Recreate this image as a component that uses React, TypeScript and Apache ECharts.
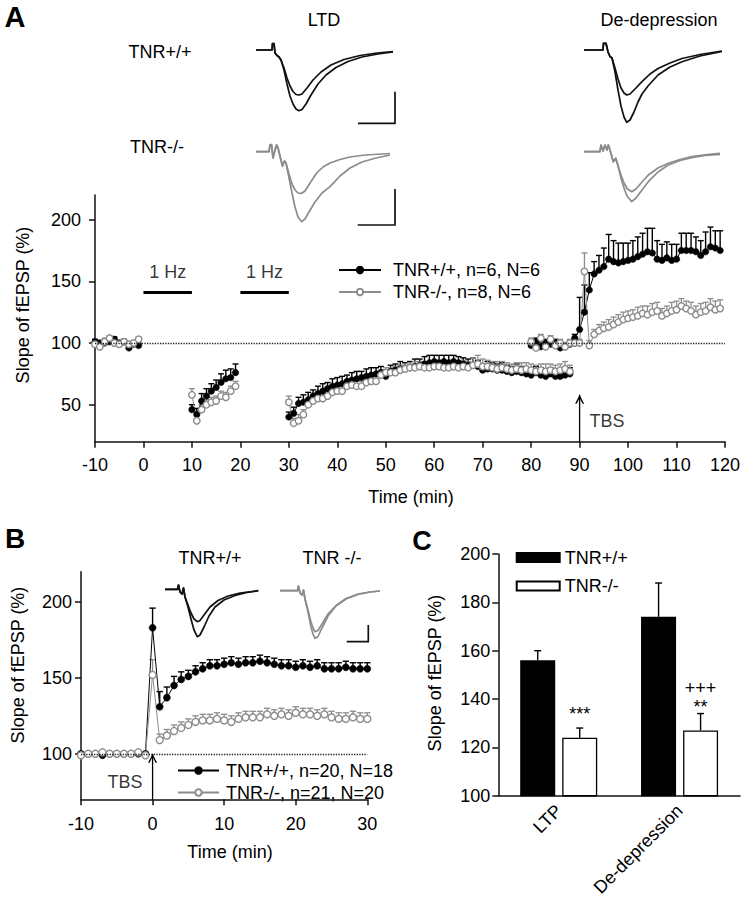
import React, { useEffect, useRef } from 'react';
import * as echarts from 'echarts';

const FONT = '"Liberation Sans", Arial, Helvetica, sans-serif';
const BLACK = '#000000';
const GRAY = '#8c8c8c';

// ---------------- Panel A (time in min, slope in % of baseline) ----------------
const aSegStarts = [-10, 10, 30, 80];
const aWt1 = [101, 100, 100, 101, 103, 100, 101, 96, 99, 98];
const aKo1 = [99, 97, 101, 104, 100, 99, 101, 99, 100, 103];
const aWtErr1 = [2, 2, 2, 2, 2, 2, 2, 2, 2, 2];
const aKoErr1 = [2, 2, 3, 2, 2, 2, 2, 2, 2, 2];
const aWt2 = [46, 42, 53, 57, 61, 64, 68, 71, 72, 76];
const aKo2 = [58, 37, 46, 50, 52, 53, 57, 56, 61, 65];
const aWtErr2 = [4, 5, 6, 6, 6, 6, 7, 7, 7, 7];
const aKoErr2 = [5, 5, 4, 4, 4, 4, 4, 4, 4, 4];
const aWt3 = [40, 43, 51, 52, 54, 57, 59, 61, 63, 65,
  66, 67, 69, 70, 71, 72, 73, 74, 75, 76,
  73, 77, 78, 79, 79, 80, 81, 82, 83, 84,
  85, 84, 85, 84, 85, 84, 83, 82, 82, 81,
  78, 79, 79, 78, 78, 77, 76, 77, 76, 75,
  74, 76, 74, 73, 75, 73, 73, 74, 75];
const aKo3 = [52, 35, 37, 42, 50, 53, 55, 55, 57, 60,
  61, 61, 65, 66, 65, 65, 68, 69, 69, 74,
  76, 76, 76, 78, 79, 80, 80, 81, 80, 80,
  81, 81, 80, 80, 81, 80, 81, 80, 82, 83,
  81, 81, 80, 79, 80, 79, 78, 79, 78, 79,
  78, 77, 78, 77, 78, 77, 78, 79, 77];
const aWtErr3 = [4, 5, 5, 6, 6, 5, 6, 6, 5, 6, 6, 6, 5, 6, 6, 5, 6, 6, 5, 5,
  5, 5, 5, 6, 5, 5, 6, 5, 6, 6, 5, 6, 5, 6, 5, 5, 5, 5, 6, 5,
  5, 6, 5, 5, 6, 5, 5, 6, 5, 5, 6, 5, 6, 6, 5, 6, 6, 6, 5];
const aKoErr3 = [5, 4, 5, 4, 4, 4, 4, 4, 4, 4, 4, 5, 4, 4, 5, 4, 4, 4, 4, 4,
  4, 4, 5, 4, 4, 4, 5, 4, 5, 4, 4, 5, 4, 4, 4, 5, 5, 5, 6, 7,
  6, 5, 5, 6, 5, 5, 5, 5, 6, 5, 5, 5, 5, 6, 5, 5, 5, 6, 5];
const aWt4 = [98, 101, 97, 100, 99, 100, 96, 97, 99, 104,
  111, 125, 143, 156, 159, 162, 168, 166, 165, 166,
  167, 168, 170, 172, 174, 173, 168, 167, 169, 167,
  168, 175, 175, 175, 174, 171, 174, 178, 177, 175];
const aKo4 = [101, 96, 104, 97, 103, 98, 100, 97, 100, 100,
  100, 158, 98, 107, 110, 112, 113, 115, 117, 119,
  120, 121, 122, 124, 123, 125, 126, 122, 124, 126,
  127, 130, 128, 126, 123, 125, 126, 129, 127, 128];
const aWtErr4 = [3, 3, 3, 3, 3, 3, 3, 3, 3, 3,
  26, 22, 14, 10, 12, 15, 20, 17, 16, 15,
  14, 15, 16, 17, 19, 20, 15, 13, 13, 13,
  12, 14, 14, 14, 12, 12, 16, 16, 14, 16];
const aKoErr4 = [3, 3, 3, 3, 3, 3, 3, 3, 3, 3,
  3, 15, 4, 4, 5, 5, 6, 6, 6, 6,
  6, 6, 7, 6, 7, 7, 7, 6, 6, 7,
  7, 6, 6, 7, 7, 7, 7, 7, 7, 7];
const aStimPeriods = [[0, 10], [20, 30]];
const aStimLevel = 141;
const aStimLabelLevel = 157.6;
const aTbsTime = 90;
const aYTicks = [50, 100, 150, 200];

// ---------------- Panel B ----------------
const bStart = -10;
const bWt = [100, 100, 100, 99, 100, 100, 100, 100, 100, 100,
  183, 131, 137, 145, 149, 151, 154, 156, 158, 158,
  159, 160, 159, 160, 160, 161, 160, 159, 158, 158,
  157, 158, 157, 158, 156, 156, 156, 157, 156, 156, 156];
const bKo = [99, 100, 100, 101, 100, 100, 100, 100, 101, 99,
  152, 109, 112, 115, 117, 119, 121, 122, 122, 123,
  122, 121, 123, 124, 124, 124, 126, 125, 126, 125,
  127, 126, 126, 125, 126, 124, 123, 123, 124, 123, 123];
const bWtErr = [1, 1, 1, 1, 1, 1, 1, 1, 1, 1,
  13, 10, 7, 6, 5, 4, 4, 4, 4, 4,
  4, 4, 4, 4, 4, 4, 4, 4, 4, 4,
  4, 4, 4, 4, 4, 4, 4, 4, 4, 4, 4];
const bKoErr = [1, 1, 1, 1, 1, 1, 1, 1, 1, 1,
  10, 4, 4, 4, 4, 4, 4, 4, 4, 4,
  4, 4, 4, 4, 4, 4, 4, 4, 4, 4,
  4, 4, 4, 4, 4, 4, 4, 4, 4, 4, 4];
const bTbsTime = 0;
const bYTicks = [100, 150, 200];

// ---------------- Panel C ----------------
const cCategories = ['LTP', 'De-depression'];
const cWt = [156, 174];
const cWtErr = [4, 14];
const cKo = [124, 127];
const cKoErr = [4, 7];
const cSig = ['***', '+++\n**'];

const AWT = 'TNR+/+, n=6, N=6';
const AKO = 'TNR-/-, n=8, N=6';
const BWT = 'TNR+/+, n=20, N=18';
const BKO = 'TNR-/-, n=21, N=20';
const CWT = 'TNR+/+';
const CKO = 'TNR-/-';

function buildLine(starts: number[], segs: number[][]) {
  const out: any[] = [];
  segs.forEach((seg, si) => {
    if (si > 0) out.push([starts[si], null]);
    seg.forEach((v, i) => out.push([starts[si] + i, v]));
  });
  return out;
}
function buildErr(starts: number[], segs: number[][], errs: number[][]) {
  const out: any[] = [];
  segs.forEach((seg, si) => seg.forEach((v, i) => out.push([starts[si] + i, v, errs[si][i]])));
  return out;
}

const ARROW = 'path://M0,10 L5,0 L10,10 L8.3,10 L5,3.4 L1.7,10 Z';

function errRender(color: string, hw: number, dx: number, lw: number) {
  return (params: any, api: any) => {
    const x = api.value(0);
    const v = api.value(1);
    const e = api.value(2);
    const p0 = api.coord([x, v]);
    const p1 = api.coord([x, v + e]);
    const cx = p0[0] + dx;
    return {
      type: 'group',
      children: [
        { type: 'line', shape: { x1: cx, y1: p0[1], x2: cx, y2: p1[1] }, style: { stroke: color, lineWidth: lw } },
        { type: 'line', shape: { x1: cx - hw, y1: p1[1], x2: cx + hw, y2: p1[1] }, style: { stroke: color, lineWidth: lw } },
      ],
    };
  };
}

function lineSeries(name: string, data: any[], grid: number, gray: boolean, size: number) {
  return {
    type: 'line', name, xAxisIndex: grid, yAxisIndex: grid, data,
    symbol: 'circle', symbolSize: size, showSymbol: true, connectNulls: false,
    lineStyle: { color: gray ? GRAY : BLACK, width: 1 },
    itemStyle: gray ? { color: '#ffffff', borderColor: GRAY, borderWidth: 1.4 } : { color: BLACK, borderColor: BLACK, borderWidth: 0.5 },
    emphasis: { disabled: true }, z: 4, silent: true,
  };
}

function errSeries(name: string, data: any[], grid: number, color: string, hw: number, dx = 0, lw = 1.3) {
  return {
    type: 'custom', name, xAxisIndex: grid, yAxisIndex: grid, data,
    renderItem: errRender(color, hw, dx, lw), z: 3, silent: true, clip: false,
  };
}

const axisLineStyle = { color: '#111', width: 1.5 };

function valueXAxis(grid: number, min: number, max: number, margin: number) {
  return {
    type: 'value', gridIndex: grid, min, max, interval: 10,
    axisLine: { show: true, onZero: false, lineStyle: axisLineStyle },
    axisTick: { show: true, inside: false, length: 6, lineStyle: axisLineStyle },
    axisLabel: { fontSize: 18, color: BLACK, margin, fontFamily: FONT },
    splitLine: { show: false },
  };
}
function valueYAxis(grid: number, min: number, max: number, ticks: number[], margin: number) {
  return {
    type: 'value', gridIndex: grid, min, max,
    axisLine: { show: true, onZero: false, lineStyle: axisLineStyle },
    axisTick: { show: true, inside: false, length: 6, lineStyle: axisLineStyle, customValues: ticks },
    axisLabel: { fontSize: 18, color: BLACK, margin, fontFamily: FONT, customValues: ticks },
    splitLine: { show: false },
  };
}

function poly(points: number[][], color: string, lw = 1.7) {
  return { type: 'polyline', shape: { points }, style: { stroke: color, fill: 'none', lineWidth: lw, lineJoin: 'round' }, silent: true };
}
function txt(text: string, x: number, y: number, size = 18, extra: any = {}) {
  return {
    type: 'text', x, y, silent: true,
    style: { text, fill: BLACK, font: `${extra.bold ? 'bold ' : ''}${size}px ${FONT}`, textAlign: 'center', textVerticalAlign: 'middle' },
    rotation: extra.rotation || 0,
  };
}

// inset recordings (illustrative traces)
const ltdWtStart = [[256, 50], [272, 50], [272.5, 43.5], [274, 43.5], [275, 53], [277, 55.5], [279, 57], [281, 60]];
const ltdWtBig = [...ltdWtStart, [284, 70], [287, 84], [290, 96], [293, 104], [296, 109], [299, 110.7], [302, 109.5], [306, 104], [311, 95], [318, 84], [326, 75], [336, 67.5], [348, 61.5], [362, 57], [378, 54], [393, 51.8]];
const ltdWtSmall = [...ltdWtStart, [284, 68], [287, 78], [290, 86], [293, 91.5], [296, 94.5], [299, 95], [302, 94], [307, 88], [313, 80], [321, 72], [331, 65], [344, 59.5], [360, 55.5], [377, 53], [393, 51.5]];
const ddWtStart = [[584, 50], [603, 50], [603.5, 43.3], [606, 43.3], [608, 52], [610, 56.5], [612, 58]];
const ddWtBig = [...ddWtStart, [615, 72], [618, 90], [621, 106], [624, 117], [626.7, 122.3], [630, 120], [634, 112], [638, 102], [642, 94], [648, 86], [658, 75], [670, 67], [682, 61.7], [700, 56], [722, 51.5]];
const ddWtSmall = [...ddWtStart, [615, 68], [618, 79], [621, 88], [624, 93], [626.7, 95], [630, 94], [635, 89], [642, 81.7], [650, 74], [658, 68.5], [670, 63], [682, 58.5], [700, 54.5], [722, 51]];
const ltdKoStart = [[256, 151.7], [269, 151.7], [270, 145], [271.5, 144.5], [273, 158], [275, 150], [276.5, 145], [278, 148], [281, 160], [282.5, 166], [284.5, 161], [286, 163]];
const ltdKoBig = [...ltdKoStart, [289, 178], [292, 193], [295, 207], [298, 217], [301.7, 221.7], [305, 219], [309, 212], [315, 202], [322, 193], [330, 186.7], [340, 176], [350, 168], [362, 162], [374, 158.5], [390, 155]];
const ltdKoSmall = [...ltdKoStart, [289, 174], [292, 184], [295, 190], [298, 193], [301.7, 193.3], [305, 191], [310, 183], [316.7, 173], [323, 167], [330, 163], [340, 159.5], [350, 157], [365, 155], [390, 153.5]];
const ddKoStart = [[584, 151.7], [600, 151.7], [601, 145], [603, 151], [605, 145], [607, 150], [608.3, 145], [610, 150], [613.3, 161.7], [615.7, 158.3], [618.3, 166.7]];
const ddKoBig = [...ddKoStart, [621, 178], [624, 188], [627, 196], [631.7, 201.7], [636, 198], [642, 190], [648.3, 181.7], [658, 172], [668.3, 165], [680, 160.5], [691.7, 157.7], [705, 155.5], [720, 154.3]];
const ddKoSmall = [...ddKoStart, [621, 175], [624, 183], [627, 188.5], [631.7, 191.7], [636, 189], [642, 182], [648.3, 175], [658, 168], [668.3, 163.3], [680, 159.5], [691.7, 156.7], [705, 154.8], [720, 153.3]];
const bTrWtStart = [[165, 589.3], [177.5, 589.3], [178.5, 585], [180, 592], [182, 594], [183.5, 588], [185, 597]];
const bTrWtBig = [...bTrWtStart, [188, 607], [191, 619], [194, 630], [197.3, 636.7], [200, 635], [204, 627], [209, 616], [215, 607], [224, 600], [235, 595.5], [247, 592.5], [258.3, 590.7]];
const bTrWtSmall = [...bTrWtStart, [188, 605], [191, 613], [194, 619], [197.3, 621.7], [200, 620.5], [204, 615], [210, 607], [218, 600.5], [228, 596], [240, 593], [258.3, 590.7]];
const bTrKoStart = [[280, 590.7], [297.5, 590.7], [298.5, 586], [300, 593], [302, 595], [303.5, 590], [305, 599]];
const bTrKoBig = [...bTrKoStart, [308, 612], [311, 627], [313, 634], [315, 638.3], [318, 636.5], [322, 628], [328, 616], [336, 606], [346, 599], [358, 594.5], [370, 592], [380, 591]];
const bTrKoSmall = [...bTrKoStart, [308, 610], [311, 622], [313, 628], [315, 631.7], [318, 630.5], [322, 624], [328, 614], [336, 605.5], [346, 598.5], [358, 594], [370, 592], [380, 591]];

export default function App() {
  const ref = useRef<HTMLDivElement>(null);
  useEffect(() => {
    if (!ref.current) return;
    const chart = echarts.init(ref.current, undefined, { renderer: 'svg' });

    const aWtData = buildLine(aSegStarts, [aWt1, aWt2, aWt3, aWt4]);
    const aKoData = buildLine(aSegStarts, [aKo1, aKo2, aKo3, aKo4]);
    const aWtErrData = buildErr(aSegStarts, [aWt1, aWt2, aWt3, aWt4], [aWtErr1, aWtErr2, aWtErr3, aWtErr4]);
    const aKoErrData = buildErr(aSegStarts, [aKo1, aKo2, aKo3, aKo4], [aKoErr1, aKoErr2, aKoErr3, aKoErr4]);
    const bWtData = bWt.map((v, i) => [bStart + i, v]);
    const bKoData = bKo.map((v, i) => [bStart + i, v]);
    const bWtErrData = bWt.map((v, i) => [bStart + i, v, bWtErr[i]]);
    const bKoErrData = bKo.map((v, i) => [bStart + i, v, bKoErr[i]]);

    const stimData: any[] = [];
    aStimPeriods.forEach((p, i) => {
      if (i > 0) stimData.push([p[0], null]);
      stimData.push([p[0], aStimLevel], [p[1], aStimLevel]);
    });
    const stimLabels = aStimPeriods.map((p) => [(p[0] + p[1]) / 2, aStimLabelLevel]);

    const dotted = {
      silent: true, symbol: 'none', label: { show: false },
      lineStyle: { type: 'dotted', color: '#222', width: 1.3 },
      data: [{ yAxis: 100 }],
    };

    const option: any = {
      animation: false,
      textStyle: { fontFamily: FONT },
      grid: [
        { left: 95, top: 195, width: 632.7, height: 246.7 },
        { left: 81, top: 571.7, width: 286.3, height: 227.6 },
        { left: 498.3, top: 554, width: 241.7, height: 242.7 },
      ],
      xAxis: [
        valueXAxis(0, -10, 120, 14),
        valueXAxis(1, -10, 30, 16),
        {
          type: 'category', gridIndex: 2, data: cCategories,
          axisLine: { show: true, onZero: false, lineStyle: axisLineStyle },
          axisTick: { show: false },
          axisLabel: { fontSize: 18, color: BLACK, rotate: 45, interval: 0, margin: 12, fontFamily: FONT },
          splitLine: { show: false },
        },
      ],
      yAxis: [
        valueYAxis(0, 20, 220, aYTicks, 14),
        valueYAxis(1, 70, 220, bYTicks, 9),
        {
          type: 'value', gridIndex: 2, min: 100, max: 200, interval: 20,
          axisLine: { show: true, onZero: false, lineStyle: axisLineStyle },
          axisTick: { show: true, inside: false, length: 6, lineStyle: axisLineStyle },
          axisLabel: { fontSize: 18, color: BLACK, margin: 8, fontFamily: FONT },
          splitLine: { show: false },
        },
      ],
      legend: [
        {
          data: [AWT, AKO], left: 333, top: 256, orient: 'vertical', itemWidth: 42, itemHeight: 8, itemGap: 4,
          selectedMode: false, textStyle: { fontSize: 18, color: BLACK, fontFamily: FONT, padding: [0, 0, 0, 7] },
        },
        {
          data: [BWT, BKO], left: 172, top: 756.5, orient: 'vertical', itemWidth: 41, itemHeight: 8, itemGap: 4,
          selectedMode: false, textStyle: { fontSize: 18, color: BLACK, fontFamily: FONT, padding: [0, 0, 0, 2] },
        },
        {
          data: [CWT, CKO], left: 510.7, top: 543.5, orient: 'vertical', itemWidth: 43, itemHeight: 9, itemGap: 10.5,
          icon: 'rect', selectedMode: false, textStyle: { fontSize: 18, color: BLACK, fontFamily: FONT },
        },
      ],
      series: [
        // ---- A ----
        {
          type: 'line', name: 'stimA', xAxisIndex: 0, yAxisIndex: 0, data: stimData, symbol: 'none',
          connectNulls: false, lineStyle: { color: BLACK, width: 3 }, silent: true, z: 2, markLine: dotted,
        },
        {
          type: 'scatter', name: 'stimLabelA', xAxisIndex: 0, yAxisIndex: 0, data: stimLabels, symbolSize: 0, silent: true,
          label: { show: true, position: 'inside', formatter: '1 Hz', fontSize: 18, color: BLACK, fontFamily: FONT },
        },
        errSeries('errAwt', aWtErrData, 0, BLACK, 3, 0, 1.4),
        errSeries('errAko', aKoErrData, 0, GRAY, 3, 0, 1.3),
        lineSeries(AWT, aWtData, 0, false, 6.5),
        lineSeries(AKO, aKoData, 0, true, 6.5),
        {
          type: 'line', name: 'tbsA', xAxisIndex: 0, yAxisIndex: 0, silent: true, z: 5,
          data: [{ value: [aTbsTime, 20], symbol: 'none' }, { value: [aTbsTime, 58], symbol: ARROW, symbolSize: [9, 9], symbolOffset: [0, '50%'] }],
          showSymbol: true, lineStyle: { color: BLACK, width: 1.3 }, itemStyle: { color: BLACK },
        },
        {
          type: 'scatter', name: 'tbsLabelA', xAxisIndex: 0, yAxisIndex: 0, data: [[aTbsTime, 36.5]], symbolSize: 0, silent: true,
          label: { show: true, position: 'right', distance: 10, formatter: 'TBS', fontSize: 18, color: BLACK, fontFamily: FONT },
        },
        // ---- B ----
        errSeries('errBwt', bWtErrData, 1, BLACK, 3.2, 0, 1.4),
        errSeries('errBko', bKoErrData, 1, GRAY, 3.2, 0, 1.3),
        { ...lineSeries(BWT, bWtData, 1, false, 7), markLine: dotted },
        lineSeries(BKO, bKoData, 1, true, 7),
        {
          type: 'line', name: 'tbsB', xAxisIndex: 1, yAxisIndex: 1, silent: true, z: 5,
          data: [{ value: [bTbsTime, 70], symbol: 'none' }, { value: [bTbsTime, 100], symbol: ARROW, symbolSize: [9, 9], symbolOffset: [0, '50%'] }],
          showSymbol: true, lineStyle: { color: BLACK, width: 1.3 }, itemStyle: { color: BLACK },
        },
        {
          type: 'scatter', name: 'tbsLabelB', xAxisIndex: 1, yAxisIndex: 1, data: [[bTbsTime, 81.3]], symbolSize: 0, silent: true,
          label: { show: true, position: 'left', distance: 10, formatter: 'TBS', fontSize: 18, color: BLACK, fontFamily: FONT },
        },
        // ---- C ----
        {
          type: 'bar', name: CWT, xAxisIndex: 2, yAxisIndex: 2, data: cWt, barWidth: 35, barGap: '20%', silent: true,
          itemStyle: { color: BLACK, borderColor: BLACK, borderWidth: 1.2 },
        },
        {
          type: 'bar', name: CKO, xAxisIndex: 2, yAxisIndex: 2, data: cKo, barWidth: 35, barGap: '20%', silent: true,
          itemStyle: { color: '#ffffff', borderColor: BLACK, borderWidth: 1.3 },
          label: {
            show: true, position: 'top', distance: 14, fontSize: 18, lineHeight: 19, color: BLACK, fontFamily: FONT,
            formatter: (p: any) => cSig[p.dataIndex],
          },
        },
        errSeries('errCwt', cWt.map((v, i) => [i, v, cWtErr[i]]), 2, BLACK, 3.5, -21, 1.4),
        errSeries('errCko', cKo.map((v, i) => [i, v, cKoErr[i]]), 2, BLACK, 3.5, 21, 1.4),
      ],
      graphic: [
        txt('A', 15, 17, 29, { bold: true }),
        txt('B', 15, 538, 28, { bold: true }),
        txt('C', 422, 541, 27, { bold: true }),
        txt('LTD', 324, 20),
        txt('De-depression', 659, 20),
        txt('TNR+/+', 160, 52),
        txt('TNR-/-', 157, 147),
        txt('TNR+/+', 210, 558),
        txt('TNR -/-', 332, 558),
        txt('Slope of fEPSP (%)', 23, 305, 18, { rotation: Math.PI / 2 }),
        txt('Slope of fEPSP (%)', 17.5, 665, 18, { rotation: Math.PI / 2 }),
        txt('Slope of fEPSP (%)', 435, 673, 18, { rotation: Math.PI / 2 }),
        txt('Time (min)', 411, 497),
        txt('Time (min)', 230, 852),
        poly(ltdWtBig, '#111'), poly(ltdWtSmall, '#111'),
        poly(ddWtBig, '#111'), poly(ddWtSmall, '#111'),
        poly(ltdKoBig, GRAY), poly(ltdKoSmall, GRAY),
        poly(ddKoBig, GRAY), poly(ddKoSmall, GRAY),
        poly(bTrWtBig, '#111'), poly(bTrWtSmall, '#111'),
        poly(bTrKoBig, GRAY), poly(bTrKoSmall, GRAY),
        poly([[358, 123.3], [395, 123.3], [395, 91.7]], '#111', 1.7),
        poly([[357.7, 225], [395, 225], [395, 189]], '#111', 1.7),
        poly([[346.7, 641.7], [368.3, 641.7], [368.3, 625]], '#111', 1.7),
      ],
    };
    chart.setOption(option);
    return () => chart.dispose();
  }, []);
  return <div ref={ref} style={{ position: 'fixed', left: 0, top: 0, width: 743, height: 899, background: '#fff' }} />;
}
